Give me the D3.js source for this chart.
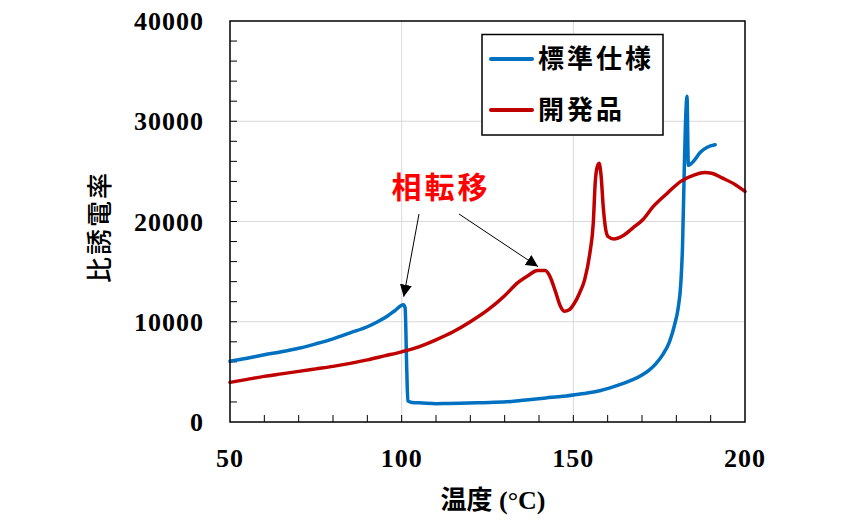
<!DOCTYPE html>
<html><head><meta charset="utf-8">
<script src="https://cdn.jsdelivr.net/npm/d3@7"></script>
<style>body{margin:0;background:#fff;}</style>
</head><body>
<svg id="c" width="860" height="520"></svg>
<script>
// ---- data ----
const seriesNames = ["標準仕様", "開発品"];
const seriesColors = ["#0070C0", "#C00000"];
const xTicks = [50, 100, 150, 200];
const yTicks = [0, 10000, 20000, 30000, 40000];
const xLabel = "温度";
const xUnit = " (°C)";
const yLabel = "比誘電率";
const annotation = "相転移";

const stdTemp = [50,55,60,65,70,75,80,85,90,93,96,98,100.5,101,101.5,101.8,103,106,110,113,117,122,127,132,137,142,147,152,157,162,165,167.5,170,172,174,176,178,179.5,180.5,181.3,181.8,182.3,182.8,183.1,183.5,185,187,189,191.3];
const stdVal  = [6050,6350,6700,7000,7350,7800,8300,8900,9500,10000,10600,11100,11700,11400,5000,2100,1950,1900,1830,1850,1880,1920,1960,2050,2230,2400,2560,2790,3060,3550,3900,4250,4700,5150,5800,6700,8000,9700,11300,13800,17500,25000,31000,32500,25600,26000,26900,27400,27650];

const devTemp = [50,55,60,65,70,75,80,85,90,95,100,105,110,115,120,125,130,134,137,139.5,141.8,143.2,144.8,146.3,147.3,148.8,150.3,151.8,153.3,154.8,155.8,156.4,156.8,157.5,158.1,158.7,159.3,160.1,161.8,164.3,167.3,170.3,173.3,177.3,181.3,185.3,188.3,190.3,193.3,197.3,200];
const devVal  = [3950,4250,4550,4800,5050,5300,5550,5850,6200,6600,7000,7500,8200,9000,10000,11150,12600,13950,14650,15100,15100,14500,13000,11500,11050,11200,11850,12850,14200,16800,19800,24000,25200,25800,24500,21500,19500,18500,18250,18550,19350,20200,21500,22800,24000,24650,24880,24820,24350,23650,23000];

// ---- layout ----
const svg = d3.select("#c");
const L = 230, R = 745, T = 21, B = 422;
const x = d3.scaleLinear().domain([50, 200]).range([L, R]);
const y = d3.scaleLinear().domain([0, 40000]).range([B, T]);

const numFont = "'Liberation Serif', 'Times New Roman', serif";
const jpFont = "'Noto Sans CJK JP', 'Noto Sans', sans-serif";

// gridlines
svg.append("g").selectAll("line").data(yTicks.slice(1, -1)).join("line")
  .attr("x1", L).attr("x2", R).attr("y1", d => y(d)).attr("y2", d => y(d))
  .attr("stroke", "#d9d9d9").attr("stroke-width", 1);
svg.append("g").selectAll("line").data(xTicks.slice(1, -1)).join("line")
  .attr("y1", T).attr("y2", B).attr("x1", d => x(d)).attr("x2", d => x(d))
  .attr("stroke", "#d9d9d9").attr("stroke-width", 1);

// minor ticks (inside)
const yMinor = d3.range(2000, 40000, 2000);
svg.append("g").selectAll("line").data(yMinor).join("line")
  .attr("x1", L).attr("x2", L + 7).attr("y1", d => y(d)).attr("y2", d => y(d))
  .attr("stroke", "#000").attr("stroke-width", 1);
const xMinor = d3.range(60, 200, 10);
svg.append("g").selectAll("line").data(xMinor).join("line")
  .attr("y1", B).attr("y2", B - 7).attr("x1", d => x(d)).attr("x2", d => x(d))
  .attr("stroke", "#000").attr("stroke-width", 1);

// tick labels
svg.append("g").selectAll("text").data(yTicks).join("text")
  .attr("x", 204).attr("y", d => y(d)).attr("dy", "0.35em")
  .attr("text-anchor", "end").attr("font-family", numFont).attr("font-weight", "bold")
  .attr("font-size", 26).attr("letter-spacing", 1).text(d => d);
svg.append("g").selectAll("text").data(xTicks).join("text")
  .attr("x", d => x(d)).attr("y", 458).attr("dy", "0.35em")
  .attr("text-anchor", "middle").attr("font-family", numFont).attr("font-weight", "bold")
  .attr("font-size", 26).attr("letter-spacing", 1).text(d => d);

// axis titles
const xt = svg.append("text").attr("x", 493).attr("y", 500).attr("dy", "0.35em")
  .attr("text-anchor", "middle").attr("font-weight", "bold").attr("font-size", 26);
xt.append("tspan").attr("font-family", jpFont).text(xLabel);
xt.append("tspan").attr("font-family", numFont).text(xUnit);

svg.append("text").attr("transform", "translate(100,227) rotate(-90)")
  .attr("text-anchor", "middle").attr("dy", "0.35em")
  .attr("font-family", jpFont).attr("font-weight", 500).attr("font-size", 26)
  .attr("letter-spacing", 2).text(yLabel);

// series
const line = d3.line().x(d => x(d[0])).y(d => y(d[1])).curve(d3.curveMonotoneX);
const series = [d3.zip(stdTemp, stdVal), d3.zip(devTemp, devVal)];
svg.append("g").selectAll("path").data(series).join("path")
  .attr("d", line).attr("fill", "none")
  .attr("stroke", (d, i) => seriesColors[i]).attr("stroke-width", 3.5)
  .attr("stroke-linejoin", "round").attr("stroke-linecap", "round");

// frame
svg.append("rect").attr("x", L).attr("y", T).attr("width", R - L).attr("height", B - T)
  .attr("fill", "none").attr("stroke", "#000").attr("stroke-width", 1.5);

// legend
const lg = svg.append("g");
lg.append("rect").attr("x", 482).attr("y", 34.5).attr("width", 181).attr("height", 100.5)
  .attr("fill", "#fff").attr("stroke", "#000").attr("stroke-width", 1.5);
seriesNames.forEach((n, i) => {
  const yy = 59 + i * 51;
  lg.append("line").attr("x1", 491).attr("x2", 532).attr("y1", yy).attr("y2", yy)
    .attr("stroke", seriesColors[i]).attr("stroke-width", 4).attr("stroke-linecap", "round");
  lg.append("text").attr("x", 538).attr("y", yy).attr("dy", "0.36em")
    .attr("font-family", jpFont).attr("font-weight", "bold").attr("font-size", 26)
    .attr("letter-spacing", 3).attr("fill", "#000").text(n);
});

// annotation
const defs = svg.append("defs");
defs.append("marker").attr("id", "ah").attr("viewBox", "0 0 10 10").attr("refX", 10).attr("refY", 5)
  .attr("markerWidth", 12).attr("markerHeight", 12).attr("markerUnits", "userSpaceOnUse")
  .attr("orient", "auto").append("path").attr("d", "M0,0 L10,5 L0,10 z").attr("fill", "#000");
svg.append("text").attr("x", 441).attr("y", 187).attr("dy", "0.36em").attr("text-anchor", "middle")
  .attr("font-family", jpFont).attr("font-weight", "bold").attr("font-size", 30)
  .attr("letter-spacing", 3).attr("fill", "#FF0000").text(annotation);
const arrows = [[[419, 214], [100.6, 12500]], [[459, 214], [139.7, 15500]]];
svg.append("g").selectAll("line").data(arrows).join("line")
  .attr("x1", d => d[0][0]).attr("y1", d => d[0][1])
  .attr("x2", d => x(d[1][0])).attr("y2", d => y(d[1][1]))
  .attr("stroke", "#000").attr("stroke-width", 1).attr("marker-end", "url(#ah)");
</script>
</body></html>
